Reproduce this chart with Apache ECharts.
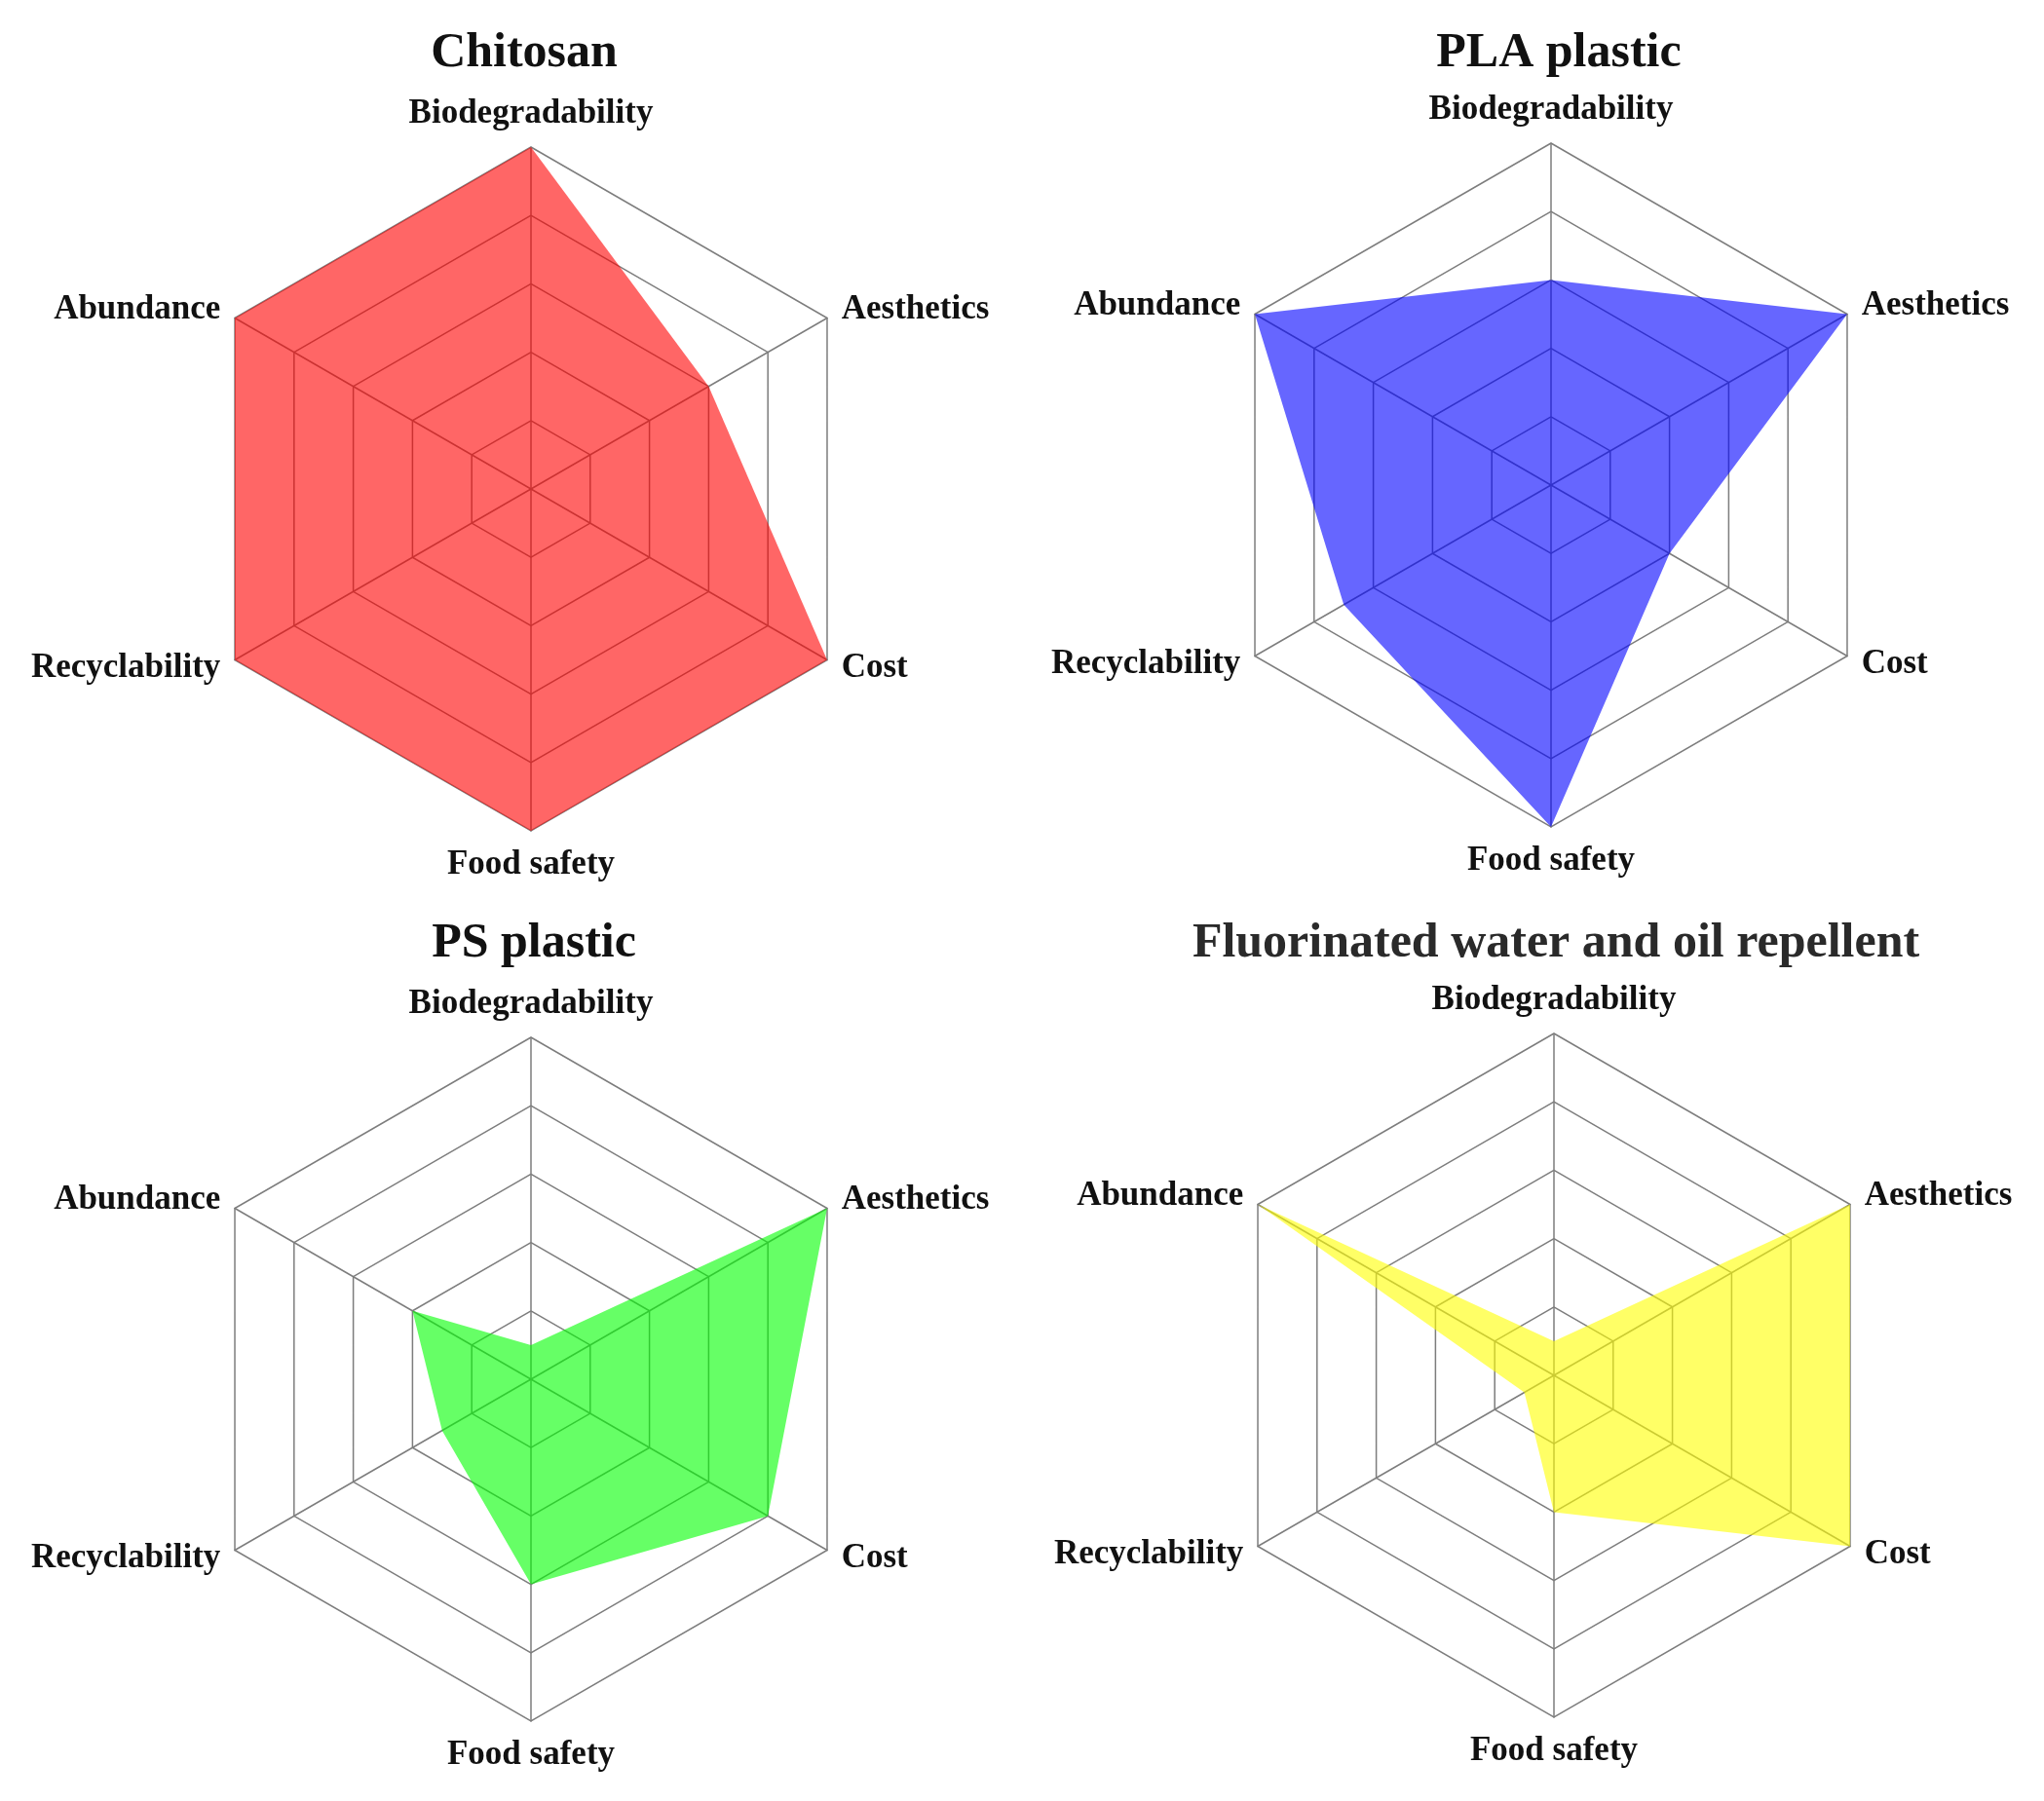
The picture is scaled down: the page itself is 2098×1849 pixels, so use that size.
<!DOCTYPE html>
<html>
<head>
<meta charset="utf-8">
<script src="https://cdn.jsdelivr.net/npm/echarts@6/dist/echarts.min.js"></script>
<style>
  html, body { margin: 0; padding: 0; background: #fff; }
  #main { width: 2098px; height: 1849px; }
</style>
</head>
<body>
<div id="main"></div>
<script>
  // indicator order runs counter-clockwise from the top, like the radar does
  var indicatorNames = ['Biodegradability', 'Abundance', 'Recyclability', 'Food safety', 'Cost', 'Aesthetics'];
  var maxScore = 5;

  var titles = ['Chitosan', 'PLA plastic', 'PS plastic', 'Fluorinated water and oil repellent'];
  var chitosan = [5, 5, 5, 5, 5, 3];
  var pla = [3, 5, 3.5, 5, 2, 5];
  var ps = [0.5, 2, 1.5, 3, 4, 5];
  var fluorinated = [0.5, 5, 0.5, 2, 5, 5];

  var allData = [chitosan, pla, ps, fluorinated];
  var fills = ['#ff0000', '#0000ff', '#00ff00', '#ffff00'];

  var centers = [[545, 502], [1592, 498], [545, 1416], [1595, 1412]];
  var titlePos = [[533, 25], [1595, 25], [543, 939], [1592, 939]];
  var serif = '"Liberation Serif", "Times New Roman", serif';

  var chart = echarts.init(document.getElementById('main'));

  var radars = [], series = [], titleList = [];
  for (var i = 0; i < 4; i++) {
    titleList.push({
      text: titles[i],
      left: titlePos[i][0],
      top: titlePos[i][1],
      textAlign: 'center',
      textStyle: { fontFamily: serif, fontSize: 50, fontWeight: 'bold', color: i == 3 ? '#2a2a2a' : '#111' }
    });
    radars.push({
      center: centers[i],
      radius: 351,
      startAngle: 90,
      shape: 'polygon',
      splitNumber: 5,
      nameGap: 17,
      indicator: indicatorNames.map(function (n) { return { name: n, max: maxScore, min: 0 }; }),
      axisName: { fontFamily: serif, fontSize: 35, fontWeight: 'bold', color: '#111' },
      splitArea: { show: false },
      splitLine: { lineStyle: { color: '#7d7d7d', width: 1.5 } },
      axisLine: { lineStyle: { color: '#7d7d7d', width: 1.5 } },
      axisTick: { show: false },
      axisLabel: { show: false }
    });
    series.push({
      type: 'radar',
      radarIndex: i,
      symbol: 'none',
      silent: true,
      lineStyle: { width: 0, color: fills[i] },
      areaStyle: { color: fills[i], opacity: 0.6 },
      data: [{ value: allData[i], name: titles[i] }]
    });
  }

  chart.setOption({
    backgroundColor: '#fff',
    animation: false,
    title: titleList,
    radar: radars,
    series: series
  });
</script>
</body>
</html>
